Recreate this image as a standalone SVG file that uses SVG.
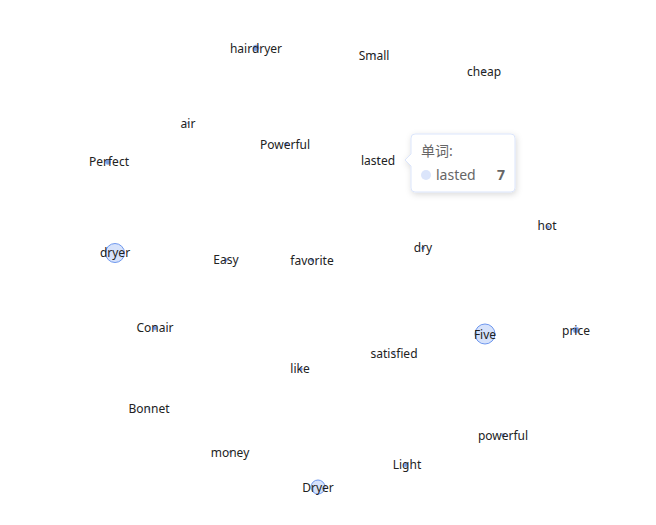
<svg xmlns="http://www.w3.org/2000/svg" width="656" height="525" viewBox="0 0 656 525">
<defs>
<style>
.n circle{fill:#d6e2fb;stroke:#6f98ee;stroke-width:1}
.n circle.s{fill:#7a9be0;stroke:#9ab6f2;stroke-width:0.8}
.n text{font-family:"Noto Sans","Liberation Sans",sans-serif;font-size:12px;fill:#222;text-anchor:middle}
.tt{font-family:"Noto Sans","Liberation Sans","Noto Sans CJK SC",sans-serif;font-size:14px;fill:#666}
</style>
<filter id="sh" x="-20%" y="-20%" width="140%" height="150%">
<feDropShadow dx="1" dy="2" stdDeviation="3" flood-color="#000" flood-opacity="0.15"/>
</filter>
</defs>
<rect width="656" height="525" fill="#fff"/>
<g id="connectors"></g>
<g id="n-hairdryer" class="n"><circle class="s" cx="256" cy="48" r="3"/><text x="256" y="53">hairdryer</text></g>
<g id="n-Small" class="n"><circle class="s" cx="375" cy="55" r="1"/><text x="374" y="60">Small</text></g>
<g id="n-cheap" class="n"><circle class="s" cx="484" cy="71" r="0.8"/><text x="484" y="76">cheap</text></g>
<g id="n-air" class="n"><circle class="s" cx="188" cy="123" r="0.8"/><text x="188" y="128">air</text></g>
<g id="n-Powerful" class="n"><circle class="s" cx="286" cy="144" r="1.5"/><text x="285" y="149">Powerful</text></g>
<g id="n-Perfect" class="n"><circle class="s" cx="108" cy="162" r="2.5"/><text x="109" y="166">Perfect</text></g>
<g id="n-lasted" class="n"><circle class="s" cx="378" cy="160" r="0.8"/><text x="378" y="165">lasted</text></g>
<g id="n-hot" class="n"><circle class="s" cx="548" cy="227" r="1.5"/><text x="547" y="230">hot</text></g>
<g id="n-dry" class="n"><circle class="s" cx="423" cy="248" r="1.5"/><text x="423" y="252">dry</text></g>
<g id="n-dryer" class="n"><circle cx="115" cy="253" r="9.5"/><text x="115" y="257">dryer</text></g>
<g id="n-Easy" class="n"><circle class="s" cx="226" cy="260" r="1.5"/><text x="226" y="264">Easy</text></g>
<g id="n-favorite" class="n"><circle class="s" cx="312" cy="260" r="1.5"/><text x="312" y="265">favorite</text></g>
<g id="n-Conair" class="n"><circle class="s" cx="155" cy="328" r="2"/><text x="155" y="332">Conair</text></g>
<g id="n-Five" class="n"><circle cx="485" cy="334" r="10"/><text x="485" y="339">Five</text></g>
<g id="n-price" class="n"><circle class="s" cx="576" cy="330" r="3"/><text x="576" y="335">price</text></g>
<g id="n-satisfied" class="n"><circle class="s" cx="394" cy="353" r="0.8"/><text x="394" y="358">satisfied</text></g>
<g id="n-like" class="n"><circle class="s" cx="301" cy="369" r="1.5"/><text x="300" y="373">like</text></g>
<g id="n-Bonnet" class="n"><circle class="s" cx="149" cy="409" r="1"/><text x="149" y="413">Bonnet</text></g>
<g id="n-powerful" class="n"><circle class="s" cx="503" cy="435" r="1.5"/><text x="503" y="440">powerful</text></g>
<g id="n-money" class="n"><circle class="s" cx="230" cy="452" r="1"/><text x="230" y="457">money</text></g>
<g id="n-Light" class="n"><circle class="s" cx="406" cy="465" r="2"/><text x="407" y="469">Light</text></g>
<g id="n-Dryer" class="n"><circle cx="318" cy="487" r="7"/><text x="318" y="492">Dryer</text></g>
<g id="tooltip">
<path d="M415,134 H511 A4,4 0 0 1 515,138 V188 A4,4 0 0 1 511,192 H415 A4,4 0 0 1 411,188 V166 L405,160 L411,154 V138 A4,4 0 0 1 415,134 Z" fill="#fff" stroke="#dbe5fb" stroke-width="1" filter="url(#sh)"/>
<text class="tt" x="421" y="156">单词:</text>
<circle cx="426" cy="175" r="5" fill="#dbe5fb"/>
<text class="tt" x="436" y="180">lasted</text>
<text class="tt" x="505" y="180" text-anchor="end" font-weight="bold" fill="#555">7</text>
</g>
</svg>
